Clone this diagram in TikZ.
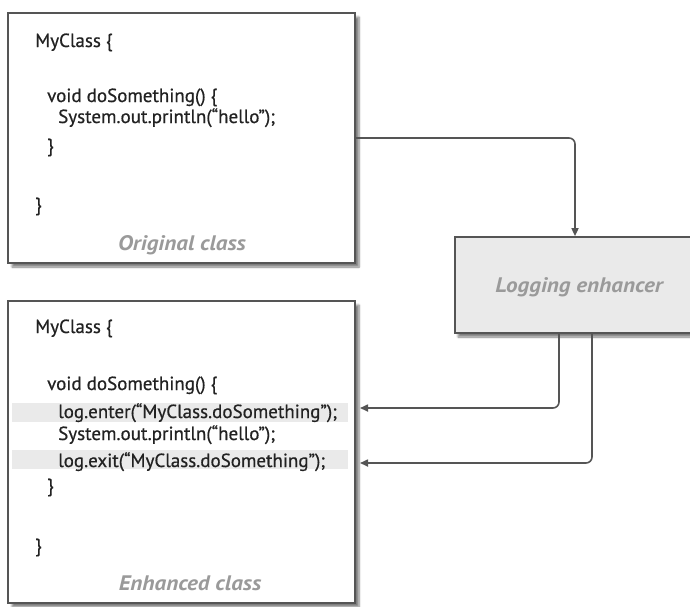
\documentclass[tikz,border=0pt]{standalone}
\usepackage{fontspec}
\setmainfont{PT Sans}[FakeStretch=1.0,FakeBold=0.6]
\newfontfamily\capfont{PT Sans}[FakeStretch=1.1]
\usetikzlibrary{shadows.blur,arrows.meta}
\definecolor{edge}{HTML}{555555}
\definecolor{ink}{HTML}{222222}
\definecolor{caption}{HTML}{9A9A9A}
\definecolor{band}{HTML}{EAEAEA}
\tikzset{
  classbox/.style={draw=edge, line width=1.7pt, fill=white, minimum width=347pt,
    blur shadow={shadow xshift=4pt, shadow yshift=-4pt, shadow blur steps=6, shadow opacity=50}},
  procbox/.style={draw=edge, line width=1.7pt, fill=band, minimum width=240pt, minimum height=96pt,
    blur shadow={shadow xshift=3pt, shadow yshift=-4pt, shadow blur steps=6, shadow opacity=50}},
  code/.style={anchor=base west, inner sep=0pt, text=ink, font=\fontsize{19}{22}\selectfont},
  label/.style={anchor=base, inner sep=0pt, text=caption, font=\capfont\fontsize{21}{24}\selectfont\itshape\bfseries},
  conn/.style={draw=edge, line width=1.6pt, rounded corners=6pt, -{Triangle[length=8pt,width=7pt]}},
  hl/.style={fill=band, draw=none},
}
\begin{document}
\begin{tikzpicture}[x=1pt,y=-1pt]
\useasboundingbox (0,0) rectangle (690,606);

% class boxes and the enhancer
\node[classbox, minimum height=250pt] (orig) at (181.5,138) {};
\node[classbox, minimum height=302pt] (enh) at (181.5,452) {};
\node[procbox] (logger) at (575,285) {};
\node[label] (loglbl) at (579,292) {Logging enhancer};

% original class listing
\node[code] (o1) at (35,47) {MyClass \{};
\node[code] (o2) at (47,102) {void doSomething() \{};
\node[code] (o3) at (58,123) {System.out.println(“hello”);};
\node[code] (o4) at (47,152) {\}};
\node[code] (o5) at (35,211) {\}};
\node[label] (olbl) at (182,250) {Original class};

% enhanced class listing with the woven-in lines shaded
\fill[hl] (12,403) rectangle (348,422);
\fill[hl] (12,450) rectangle (348,469);
\node[code] (e1) at (35,333) {MyClass \{};
\node[code] (e2) at (47,390) {void doSomething() \{};
\node[code] (enter) at (58,418) {log.enter(“MyClass.doSomething”);};
\node[code] (e4) at (58,440) {System.out.println(“hello”);};
\node[code] (exit) at (58,467) {log.exit(“MyClass.doSomething”);};
\node[code] (e6) at (47,492) {\}};
\node[code] (e7) at (35,552) {\}};
\node[label] (elbl) at (190,590) {Enhanced class};

% connectors
\coordinate (enterin) at (360,408);
\coordinate (exitin) at (360,463);
\draw[conn] (orig.east) -| (logger.north);
\draw[conn] (logger.south -| 559,0) |- (enterin);
\draw[conn] (logger.south -| 592,0) |- (exitin);
\end{tikzpicture}
\end{document}
